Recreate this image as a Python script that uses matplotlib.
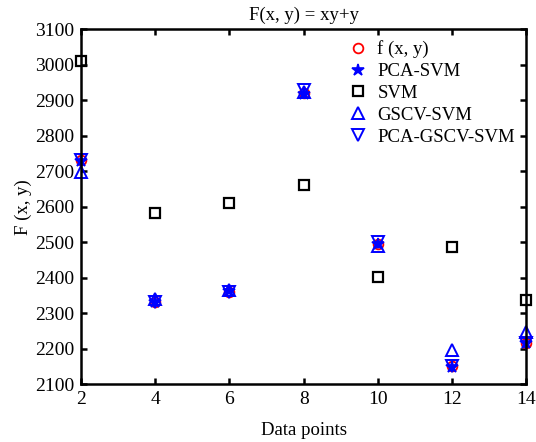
import numpy as np
import matplotlib.pyplot as plt

plt.rcParams['font.family'] = ['Liberation Serif', 'DejaVu Serif']

x = [2, 4, 6, 8, 10, 12, 14]
f_xy = [2730, 2332, 2360, 2920, 2495, 2150, 2216]
pca_svm = [2728, 2330, 2362, 2918, 2496, 2148, 2215]
svm = [3010, 2582, 2610, 2660, 2401, 2486, 2336]
gscv_svm = [2698, 2340, 2364, 2922, 2490, 2196, 2246]
pca_gscv_svm = [2732, 2331, 2359, 2928, 2500, 2150, 2217]

fig = plt.figure(figsize=(5.36, 4.42), dpi=100)
ax = fig.add_axes([0.151, 0.131, 0.831, 0.803])

ax.plot(x, f_xy, 'o', mfc='none', mec='red', ms=7, mew=1.3, label='f (x, y)', clip_on=False)
ax.plot(x, pca_svm, '*', color='blue', ms=9, mew=1.2, label='PCA-SVM', clip_on=False)
ax.plot(x, svm, 's', mfc='none', mec='black', ms=7, mew=1.6, label='SVM', clip_on=False)
ax.plot(x, gscv_svm, '^', mfc='none', mec='blue', ms=8, mew=1.4, label='GSCV-SVM', clip_on=False)
ax.plot(x, pca_gscv_svm, 'v', mfc='none', mec='blue', ms=8, mew=1.4, label='PCA-GSCV-SVM', clip_on=False)

ax.set_xlim(2, 14)
ax.set_ylim(2100, 3100)
ax.set_xticks(np.arange(2, 15, 2))
ax.set_yticks(np.arange(2100, 3101, 100))
ax.tick_params(direction='in', top=True, right=True, labelsize=14, width=1.8, length=4, pad=5)
for s in ax.spines.values():
    s.set_linewidth(1.8)

ax.set_title('F(x, y) = xy+y', fontsize=13.5, pad=7)
ax.set_xlabel('Data points', fontsize=13.5, labelpad=10)
ax.set_ylabel('F (x, y)', fontsize=13.5, labelpad=2)
ax.legend(loc='upper right', frameon=False, fontsize=13.5, handletextpad=0.3,
          labelspacing=0.25, borderaxespad=0.2, handlelength=1.5)

fig.savefig('out.png', dpi=100)
